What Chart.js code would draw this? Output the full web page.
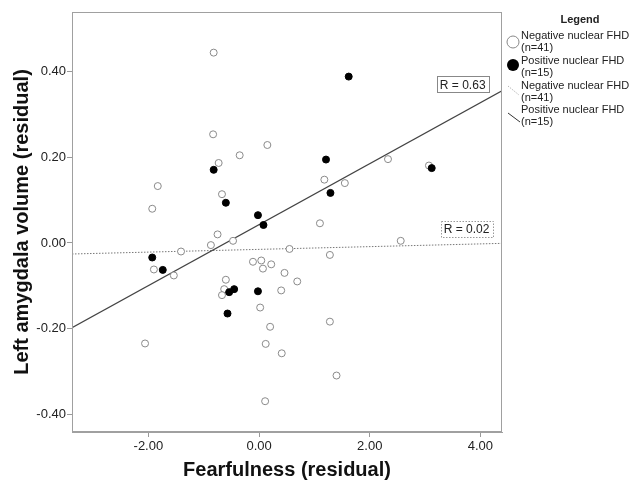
<!DOCTYPE html>
<html>
<head>
<meta charset="utf-8">
<script src="https://cdn.jsdelivr.net/npm/chart.js@4"></script>
<style>
  html, body { margin: 0; padding: 0; background: #fff; }
  #wrap { width: 633px; height: 491px; position: relative; }
</style>
</head>
<body>
<div id="wrap"><canvas id="chart"></canvas></div>
<script>
// Datos (residuales)
const negX = [-0.82, -0.83, 0.15, -0.35, -0.73, -1.83, -0.67, -1.93, 2.33, 3.07,
              1.18, 1.55, -0.75, -0.47, -0.87, -1.41, -0.11, 0.04, 0.07, 0.22,
              -1.90, -1.54, -0.60, -0.63, -0.67, 0.40, 0.02, 0.20, 0.12, 0.41,
              -2.06, 0.11, 1.10, 2.56, 0.55, 1.28, 0.46, 0.69, 1.28, 1.40];
const negY = [0.445, 0.254, 0.229, 0.205, 0.187, 0.133, 0.114, 0.080, 0.196, 0.181,
              0.148, 0.140, 0.020, 0.005, -0.005, -0.020, -0.044, -0.041, -0.060, -0.050,
              -0.062, -0.076, -0.086, -0.108, -0.122, -0.111, -0.151, -0.196, -0.236, -0.258,
              -0.235, -0.370, 0.046, 0.005, -0.014, -0.028, -0.070, -0.090, -0.184, -0.310];
const posX = [-0.82, -0.60, -0.02, 1.62, 1.21, 3.12, 1.29, 0.08, -1.93, -1.74,
              -0.54, -0.45, -0.02, -0.57];
const posY = [0.171, 0.094, 0.065, 0.389, 0.195, 0.175, 0.117, 0.042, -0.034, -0.063,
              -0.115, -0.108, -0.113, -0.165];

// Rectas de ajuste [pendiente, intercepto]
const negFit = [0.0032, -0.015];
const posFit = [0.0713, 0.043];
const rLabels = ['R = 0.63', 'R = 0.02'];

const xTicks = [-2, 0, 2, 4];
const yTicks = [-0.4, -0.2, 0, 0.2, 0.4];
const xRange = [-3.38, 4.39];
const yRange = [-0.442, 0.54];

const FONT = '"Liberation Sans", Arial, sans-serif';
const toPts = (xs, ys) => xs.map((x, i) => ({ x: x, y: ys[i] }));
const fitLine = f => xRange.map(x => ({ x: x, y: f[0] * x + f[1] }));

// Marco, etiquetas R y leyenda
const extras = {
    id: 'extras',
    afterDraw(chart) {
        const ctx = chart.ctx;
        const a = chart.chartArea;
        const xs = chart.scales.x, ys = chart.scales.y;
        ctx.save();
        ctx.strokeStyle = '#a0a0a0';
        ctx.lineWidth = 1;
        ctx.strokeRect(a.left + 0.5, a.top + 0.5, a.right - a.left - 1, a.bottom - a.top - 1);

        // cajas R
        const box = (label, cx, cy, dashed) => {
            ctx.font = '12px ' + FONT;
            const w = ctx.measureText(label).width + 6, h = 16;
            const px = xs.getPixelForValue(cx), py = ys.getPixelForValue(cy);
            ctx.fillStyle = '#fff';
            ctx.fillRect(px - w / 2, py - h / 2, w, h);
            ctx.strokeStyle = dashed ? '#999' : '#888';
            ctx.setLineDash(dashed ? [1.5, 1.5] : []);
            ctx.strokeRect(Math.round(px - w / 2) + 0.5, Math.round(py - h / 2) + 0.5, Math.round(w), h);
            ctx.setLineDash([]);
            ctx.fillStyle = '#222';
            ctx.textAlign = 'center';
            ctx.textBaseline = 'middle';
            ctx.fillText(label, px, py + 1);
        };
        box(rLabels[0], 3.68, 0.371, false);
        box(rLabels[1], 3.75, 0.033, true);

        // leyenda
        const lx = a.right + 19;
        ctx.fillStyle = '#222';
        ctx.textAlign = 'center';
        ctx.textBaseline = 'middle';
        ctx.font = 'bold 11px ' + FONT;
        ctx.fillText('Legend', a.right + 78, 20);
        ctx.textAlign = 'left';
        ctx.font = '11px ' + FONT;
        const items = [
            ['Negative nuclear FHD', '(n=41)', 36],
            ['Positive nuclear FHD', '(n=15)', 61],
            ['Negative nuclear FHD', '(n=41)', 86],
            ['Positive nuclear FHD', '(n=15)', 110]
        ];
        items.forEach(it => {
            ctx.fillStyle = '#222';
            ctx.fillText(it[0], lx, it[2]);
            ctx.fillText(it[1], lx, it[2] + 12);
        });
        ctx.lineWidth = 1;
        ctx.strokeStyle = '#888';
        ctx.beginPath();
        ctx.arc(a.right + 11, 42, 6, 0, Math.PI * 2);
        ctx.stroke();
        ctx.fillStyle = '#000';
        ctx.beginPath();
        ctx.arc(a.right + 11, 65, 6, 0, Math.PI * 2);
        ctx.fill();
        ctx.strokeStyle = '#999';
        ctx.setLineDash([1, 1.5]);
        ctx.beginPath();
        ctx.moveTo(a.right + 6, 86);
        ctx.lineTo(a.right + 17, 95);
        ctx.stroke();
        ctx.setLineDash([]);
        ctx.strokeStyle = '#333';
        ctx.beginPath();
        ctx.moveTo(a.right + 6, 113);
        ctx.lineTo(a.right + 18, 122);
        ctx.stroke();
        ctx.restore();
    }
};

new Chart(document.getElementById('chart'), {
    type: 'scatter',
    data: {
        datasets: [
            {
                label: 'Negative nuclear FHD (n=41)',
                data: toPts(negX, negY),
                pointRadius: 3.5,
                pointBorderWidth: 1,
                pointBorderColor: '#8a8a8a',
                pointBackgroundColor: '#fff',
                order: 1
            },
            {
                label: 'Positive nuclear FHD (n=15)',
                data: toPts(posX, posY),
                pointRadius: 3.5,
                pointBorderWidth: 1,
                pointBorderColor: '#000',
                pointBackgroundColor: '#000',
                order: 0
            },
            {
                label: 'fit neg',
                type: 'line',
                data: fitLine(negFit),
                borderColor: '#777',
                borderWidth: 1,
                borderDash: [1.5, 1.5],
                pointRadius: 0,
                order: 3
            },
            {
                label: 'fit pos',
                type: 'line',
                data: fitLine(posFit),
                borderColor: '#444',
                borderWidth: 1.2,
                pointRadius: 0,
                order: 2
            }
        ]
    },
    options: {
        responsive: true,
        maintainAspectRatio: false,
        animation: false,
        layout: { padding: { left: 0, right: 131, top: 12, bottom: 0 } },
        plugins: { legend: { display: false }, tooltip: { enabled: false } },
        scales: {
            x: {
                type: 'linear',
                min: xRange[0],
                max: xRange[1],
                afterBuildTicks: s => { s.ticks = xTicks.map(v => ({ value: v })); },
                afterFit: s => { s.height = 59; },
                grid: { drawOnChartArea: false, tickLength: 5, color: '#999' },
                border: { color: '#a0a0a0' },
                ticks: {
                    padding: 2,
                    color: '#222',
                    font: { family: FONT, size: 13 },
                    callback: v => v.toFixed(2)
                },
                title: {
                    display: true,
                    text: 'Fearfulness (residual)',
                    color: '#111',
                    font: { family: FONT, size: 20, weight: 'bold' },
                    padding: { top: 0, bottom: 9 }
                }
            },
            y: {
                type: 'linear',
                min: yRange[0],
                max: yRange[1],
                afterBuildTicks: s => { s.ticks = yTicks.map(v => ({ value: v })); },
                afterFit: s => { s.width = 72; },
                grid: { drawOnChartArea: false, tickLength: 5, color: '#999' },
                border: { color: '#a0a0a0' },
                ticks: {
                    padding: 1,
                    color: '#222',
                    font: { family: FONT, size: 13 },
                    callback: v => v.toFixed(2)
                },
                title: {
                    display: true,
                    text: 'Left amygdala volume (residual)',
                    color: '#111',
                    font: { family: FONT, size: 20, weight: 'bold' },
                    padding: { top: 10, bottom: 0 }
                }
            }
        }
    },
    plugins: [extras]
});
</script>
</body>
</html>
